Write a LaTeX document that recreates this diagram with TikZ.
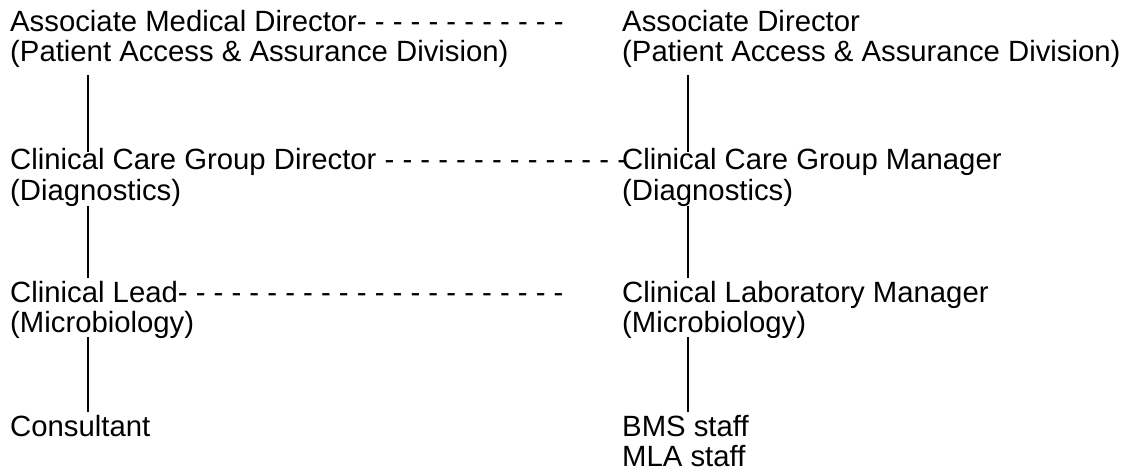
\documentclass[tikz,border=0pt]{standalone}
\usepackage{fontspec}
\setmainfont{Liberation Sans}
\usetikzlibrary{calc}
\begin{document}
\begin{tikzpicture}[x=1pt,y=-1pt,
  lbl/.style={anchor=base west,inner sep=0pt,font=\fontsize{29.3pt}{30pt}\selectfont},
  link/.style={line width=1.4pt,black}]
\useasboundingbox (0,0) rectangle (1131,475);
% left column
\node[lbl] (amd)  at (10,31.7) {Associate Medical Director- - - - - - - - - - - -};
\node[lbl] (amdb) at (10,61.7) {(Patient Access \& Assurance Division)};
\node[lbl] (ccgd) at (10,169)  {Clinical Care Group Director - - - - - - - - - - - - - -};
\node[lbl] (ccgdb) at (10,200) {(Diagnostics)};
\node[lbl] (cl)   at (10,302)  {Clinical Lead- - - - - - - - - - - - - - - - - - - - - -};
\node[lbl] (clb)  at (10,332)  {(Microbiology)};
\node[lbl] (con)  at (10,436)  {Consultant};
% right column
\node[lbl] (ad)   at (622,31.7) {Associate Director};
\node[lbl] (adb)  at (622,61.7) {(Patient Access \& Assurance Division)};
\node[lbl] (ccgm) at (622,169)  {Clinical Care Group Manager};
\node[lbl] (ccgmb) at (622,200) {(Diagnostics)};
\node[lbl] (clm)  at (622,302)  {Clinical Laboratory Manager};
\node[lbl] (clmb) at (622,332)  {(Microbiology)};
\node[lbl] (bms)  at (622,436)  {BMS staff};
\node[lbl] (mla)  at (622,466)  {MLA staff};
% connectors left
\draw[link] ($(amdb.base west)+(78,13.3)$) -- ($(ccgd.base west)+(78,-17)$);
\draw[link] ($(ccgdb.base west)+(78,6)$) -- ($(cl.base west)+(78,-24)$);
\draw[link] ($(clb.base west)+(78,5)$) -- ($(con.base west)+(78,-24)$);
% connectors right
\draw[link] ($(adb.base west)+(66,13.3)$) -- ($(ccgm.base west)+(66,-17)$);
\draw[link] ($(ccgmb.base west)+(66,6)$) -- ($(clm.base west)+(66,-24)$);
\draw[link] ($(clmb.base west)+(66,5)$) -- ($(bms.base west)+(66,-24)$);
\end{tikzpicture}
\end{document}
